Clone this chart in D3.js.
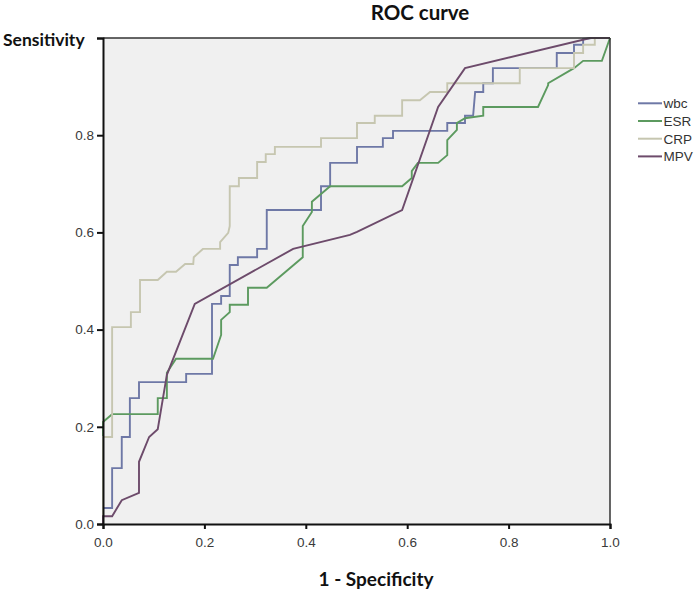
<!DOCTYPE html>
<html>
<head>
<meta charset="utf-8">
<script src="https://d3js.org/d3.v7.min.js"></script>
<style>
  html, body { margin: 0; padding: 0; background: #fff; }
  svg { display: block; }
</style>
</head>
<body>
<svg id="chart" width="700" height="593"></svg>
<script>
// ---- data (1 - specificity, sensitivity) ----
const seriesNames = ["wbc", "ESR", "CRP", "MPV"];
const seriesColors = ["#6e78a6", "#5c9a5f", "#c6c6b0", "#6d4b6b"];

const wbc = [[0,0],[0,0.033],[0.018,0.033],[0.018,0.115],[0.037,0.115],[0.037,0.179],[0.053,0.179],[0.053,0.259],
  [0.071,0.259],[0.071,0.292],[0.164,0.292],[0.164,0.309],[0.215,0.309],[0.215,0.453],[0.233,0.453],[0.233,0.469],
  [0.25,0.469],[0.25,0.533],[0.266,0.533],[0.266,0.549],[0.304,0.549],[0.304,0.566],[0.323,0.566],[0.323,0.646],
  [0.43,0.646],[0.43,0.695],[0.448,0.695],[0.448,0.743],[0.501,0.743],[0.501,0.776],[0.552,0.776],[0.552,0.794],
  [0.572,0.794],[0.572,0.809],[0.679,0.809],[0.679,0.825],[0.714,0.825],[0.714,0.84],[0.73,0.84],[0.734,0.889],
  [0.75,0.889],[0.75,0.907],[0.769,0.907],[0.769,0.938],[0.895,0.938],[0.895,0.969],[0.929,0.969],[0.929,0.986],
  [0.947,0.986],[0.947,0.998],[0.964,1],[1,1]];

const esr = [[0,0],[0,0.21],[0.018,0.226],[0.108,0.226],[0.108,0.259],[0.126,0.259],[0.126,0.311],[0.144,0.34],
  [0.217,0.34],[0.233,0.389],[0.233,0.42],[0.25,0.436],[0.25,0.451],[0.286,0.451],[0.286,0.486],[0.323,0.486],
  [0.394,0.549],[0.394,0.613],[0.412,0.642],[0.412,0.663],[0.448,0.695],[0.59,0.695],[0.609,0.712],[0.609,0.726],
  [0.621,0.743],[0.661,0.743],[0.679,0.759],[0.679,0.79],[0.698,0.811],[0.698,0.825],[0.714,0.835],[0.75,0.84],
  [0.75,0.858],[0.858,0.858],[0.878,0.903],[0.878,0.907],[0.929,0.938],[0.947,0.953],[0.984,0.953],[1,1]];

const crp = [[0,0],[0,0.179],[0.018,0.179],[0.018,0.405],[0.055,0.405],[0.055,0.436],[0.073,0.436],[0.073,0.502],
  [0.108,0.502],[0.126,0.519],[0.144,0.519],[0.162,0.535],[0.178,0.535],[0.179,0.549],[0.197,0.566],[0.231,0.566],
  [0.231,0.58],[0.247,0.599],[0.25,0.613],[0.25,0.695],[0.268,0.695],[0.268,0.712],[0.304,0.712],[0.304,0.745],
  [0.321,0.745],[0.321,0.761],[0.339,0.761],[0.339,0.776],[0.43,0.776],[0.43,0.794],[0.501,0.794],[0.501,0.825],
  [0.536,0.825],[0.536,0.84],[0.59,0.84],[0.59,0.872],[0.625,0.872],[0.645,0.889],[0.679,0.889],[0.679,0.907],
  [0.822,0.907],[0.822,0.938],[0.929,0.938],[0.929,0.969],[0.947,0.969],[0.947,0.986],[0.97,0.986],[0.97,1],[1,1]];

const mpv = [[0,0],[0,0.016],[0.018,0.016],[0.037,0.049],[0.071,0.064],[0.071,0.128],[0.091,0.179],[0.108,0.195],
  [0.126,0.307],[0.181,0.453],[0.375,0.566],[0.487,0.595],[0.501,0.601],[0.59,0.646],[0.661,0.858],[0.714,0.938],
  [0.961,1],[1,1]];

const seriesData = [wbc, esr, crp, mpv];
const xTicks = [0, 0.2, 0.4, 0.6, 0.8, 1.0];
const yTicks = [0, 0.2, 0.4, 0.6, 0.8];

// ---- layout ----
const svg = d3.select("#chart");
const pLeft = 103, pRight = 610, pTop = 38, pBottom = 524;
const x = d3.scaleLinear().domain([0, 1]).range([pLeft, pRight]);
const y = d3.scaleLinear().domain([0, 1]).range([pBottom, pTop]);

// plot background
svg.append("rect").attr("x", pLeft).attr("y", pTop)
  .attr("width", pRight - pLeft).attr("height", pBottom - pTop)
  .attr("fill", "#f0f0f0");

// curves
const line = d3.line().x(d => x(d[0])).y(d => y(d[1]));
seriesData.forEach((s, i) => {
  svg.append("path").datum(s)
    .attr("d", line)
    .attr("fill", "none")
    .attr("stroke", seriesColors[i])
    .attr("stroke-width", 1.9)
    .attr("stroke-linejoin", "miter");
});

// frame top and right
svg.append("line").attr("x1", pLeft).attr("x2", pRight).attr("y1", pTop).attr("y2", pTop)
  .attr("stroke", "#333").attr("stroke-width", 1.5);
svg.append("line").attr("x1", pRight).attr("x2", pRight).attr("y1", pTop).attr("y2", pBottom)
  .attr("stroke", "#333").attr("stroke-width", 1.5);

// axes
const xAxis = d3.axisBottom(x).tickValues(xTicks).tickFormat(d3.format(".1f")).tickSizeOuter(0).tickSize(5);
const yAxis = d3.axisLeft(y).tickValues(yTicks.concat([1])).tickFormat(d => d === 1 ? "" : d3.format(".1f")(d)).tickSizeOuter(0).tickSize(6);

const gx = svg.append("g").attr("transform", `translate(0,${pBottom})`).call(xAxis);
const gy = svg.append("g").attr("transform", `translate(${pLeft},0)`).call(yAxis);
[gx, gy].forEach(g => {
  g.select(".domain").attr("stroke", "#111").attr("stroke-width", 2);
  g.selectAll(".tick line").attr("stroke", "#111").attr("stroke-width", 2);
  g.selectAll(".tick text").attr("fill", "#3a3a3a")
    .style("font-family", "'Liberation Sans', Arial, sans-serif").style("font-size", "13.5px");
});
gx.selectAll(".tick text").attr("dy", 0).attr("y", 22.5);
gy.selectAll(".tick text").attr("x", -9);

// titles
svg.append("text").attr("x", 420).attr("y", 20).attr("text-anchor", "middle")
  .style("font-family", "Lato, 'Open Sans', sans-serif").style("font-weight", "bold").style("font-size", "20.5px")
  .attr("fill", "#111").text("ROC curve");
svg.append("text").attr("x", 3).attr("y", 46)
  .style("font-family", "Lato, 'Open Sans', sans-serif").style("font-weight", "bold").style("font-size", "17.5px")
  .attr("fill", "#111").text("Sensitivity");
svg.append("text").attr("x", 376).attr("y", 586).attr("text-anchor", "middle")
  .style("font-family", "Lato, 'Open Sans', sans-serif").style("font-weight", "bold").style("font-size", "19px")
  .attr("fill", "#111").text("1 - Specificity");

// legend
const legend = svg.append("g");
seriesNames.forEach((name, i) => {
  const ly = 103.3 + i * 17.7;
  legend.append("line").attr("x1", 638).attr("x2", 662).attr("y1", ly).attr("y2", ly)
    .attr("stroke", seriesColors[i]).attr("stroke-width", 2);
  legend.append("text").attr("x", 663.5).attr("y", ly + 5)
    .style("font-family", "'Liberation Sans', Arial, sans-serif").style("font-size", "13.5px")
    .attr("fill", "#333").text(name);
});
</script>
</body>
</html>
